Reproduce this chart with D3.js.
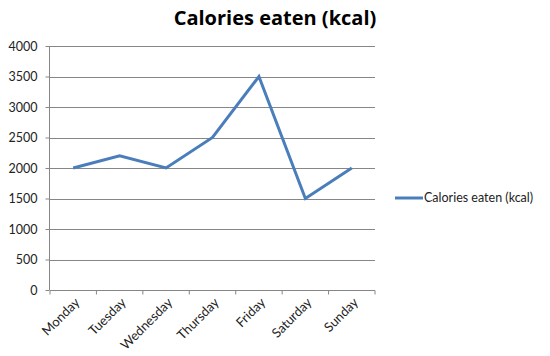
<!DOCTYPE html>
<html><head><meta charset="utf-8">
<script src="https://cdn.jsdelivr.net/npm/d3@7"></script>
<style>body{margin:0;background:#fff}svg{display:block}</style>
</head><body>
<script>
const days = ["Monday","Tuesday","Wednesday","Thursday","Friday","Saturday","Sunday"];
const calories = [2000, 2200, 2000, 2500, 3500, 1500, 2000];
const yTicks = [0, 500, 1000, 1500, 2000, 2500, 3000, 3500, 4000];
const seriesName = "Calories eaten (kcal)";
const title = "Calories eaten (kcal)";

const W = 550, H = 356;
const font = "Lato, 'Open Sans', sans-serif";
const svg = d3.select("body").append("svg").attr("width", W).attr("height", H);

const x = d3.scaleBand().domain(days).range([50, 375]);
const y = d3.scaleLinear().domain([0, 4000]).range([290, 46]);

svg.append("text").attr("x", 275).attr("y", 25).attr("text-anchor", "middle")
  .attr("font-family", "'Open Sans', sans-serif").attr("font-weight", "bold").attr("font-size", 20)
  .attr("fill", "#000").text(title);

// gridlines
svg.append("g").selectAll("line").data(yTicks.filter(d => d > 0)).join("line")
  .attr("x1", 50).attr("x2", 375).attr("y1", d => Math.round(y(d)) + 0.5).attr("y2", d => Math.round(y(d)) + 0.5)
  .attr("stroke", "#868686").attr("stroke-width", 1);

// y axis
const yAxis = svg.append("g").attr("transform", "translate(49.5,0)")
  .call(d3.axisLeft(y).tickValues(yTicks).tickSize(4).tickPadding(8).tickFormat(d3.format("d")));
yAxis.select(".domain").attr("stroke", "#868686").attr("d", `M0,${y(4000)}V${y(0)}`);
yAxis.selectAll(".tick line").attr("stroke", "#868686");
yAxis.selectAll(".tick text").attr("font-family", font).attr("font-size", 12.5).attr("fill", "#222");

// x axis
const xAxis = svg.append("g").attr("transform", `translate(0,${Math.round(y(0)) + 0.5})`)
  .call(d3.axisBottom(x).tickSize(0).tickFormat(""));
xAxis.select(".domain").attr("stroke", "#868686").attr("d", "M50,0H375");
xAxis.selectAll(".tick").remove();
const edges = days.map(d => x(d)).concat([x.range()[1]]);
xAxis.selectAll("line.t").data(edges).join("line").attr("class", "t")
  .attr("x1", d => d).attr("x2", d => d).attr("y1", 0).attr("y2", 4).attr("stroke", "#868686");
svg.append("g").selectAll("text").data(days).join("text")
  .attr("transform", d => `translate(${x(d) + x.bandwidth() / 2 + 4},${y(0) + 10}) rotate(-45)`)
  .attr("text-anchor", "end").attr("dy", "0.35em")
  .attr("font-family", font).attr("font-size", 13).attr("fill", "#222").text(d => d);

// line
const line = d3.line().x((d, i) => x(days[i]) + x.bandwidth() / 2).y(d => y(d));
svg.append("path").datum(calories).attr("d", line).attr("fill", "none")
  .attr("stroke", "#4a7ebb").attr("stroke-width", 3).attr("stroke-linejoin", "miter");

// legend
svg.append("line").attr("x1", 395).attr("x2", 423).attr("y1", 198).attr("y2", 198)
  .attr("stroke", "#4a7ebb").attr("stroke-width", 3);
svg.append("text").attr("x", 424).attr("y", 198).attr("dy", "0.35em")
  .attr("font-family", font).attr("font-size", 12.5).attr("fill", "#222").text(seriesName);
</script>
</body></html>
